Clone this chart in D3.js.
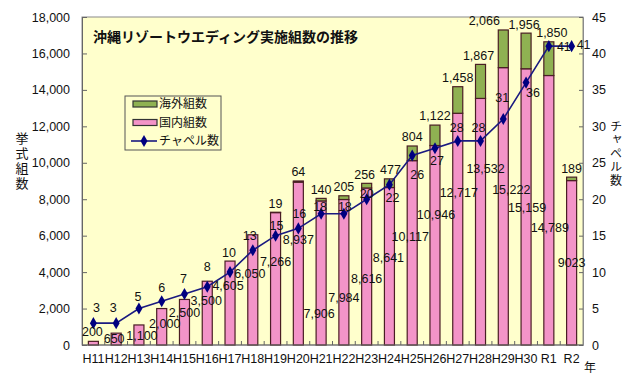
<!DOCTYPE html>
<html><head><meta charset="utf-8">
<script src="https://cdn.jsdelivr.net/npm/d3@7"></script>
<style>
html,body{margin:0;padding:0;background:#fff;}
svg{display:block;}
text{font-family:"Liberation Sans",Arial,sans-serif;fill:#111;}
.jp{font-family:"Noto Sans CJK JP",sans-serif;}
.vt{writing-mode:vertical-rl;text-orientation:upright;}
</style></head>
<body>
<script>
// ---- data ----
const years = ["H11","H12","H13","H14","H15","H16","H17","H18","H19","H20","H21","H22","H23","H24","H25","H26","H27","H28","H29","H30","R1","R2"];
const domestic = [200,650,1100,2000,2500,3500,4605,6050,7266,8937,7906,7984,8616,8641,10117,10946,12717,13532,15222,15159,14789,9023];
const overseas = [0,0,0,0,0,0,0,0,19,64,140,205,256,477,804,1122,1458,1867,2066,1956,1850,189];
const chapels = [3,3,5,6,7,8,10,13,15,16,18,18,20,22,26,27,28,28,31,36,41,41];
const domesticLabels = ["200","650","1,100","2,000","2,500","3,500","4,605","6,050","7,266","8,937","7,906","7,984","8,616","8,641","10,117","10,946","12,717","13,532","15,222","15,159","14,789","9023"];
const leftTicks = [0,2000,4000,6000,8000,10000,12000,14000,16000,18000];
const rightTicks = [0,5,10,15,20,25,30,35,40,45];

// ---- label placement (layout, not data) ----
const domLabelAt = [713,329,494,1152,1756,2415,3238,3896,4555,5762,1701,2579,3622,4774,5927,7134,8341,9659,8506,7518,6421,4500];
const domLabelDx = [-1,-2,3,3,0,-1,-2,-3,0,0,-2,0,0,-1,-2,1,1,5,8,1,1,0];
const chapelLabelOff = [[3,-16],[-3,-16],[-1,-12],[0,-14],[-1,-15],[0,-20],[-1,-19],[-3,-15],[1,-10],[1,-15],[-1,-7],[1,-7],[0,-6],[3,13],[5,19],[2,12],[-1,-13],[-2,-13],[-1,-21],[7,10],[15,0],[12,-2]];
const ovLabelDx = [0,0,0,0,0,0,0,0,0,0,0,0,-2,1,0,0,0,-2,-19,-2,3,0];

const W=632,H=382;
const m={l:82,r:49,t:17,b:37};
const pw=W-m.l-m.r, ph=H-m.t-m.b;

const svg=d3.select("body").append("svg").attr("width",W).attr("height",H);
const g=svg.append("g").attr("transform",`translate(${m.l},${m.t})`);

const x=d3.scaleBand().domain(years).range([0,pw]).paddingInner(0.56).paddingOuter(0.28);
const xc=d3.scaleBand().domain(years).range([0,pw]);
const yL=d3.scaleLinear().domain([0,18000]).range([ph,0]);
const yR=d3.scaleLinear().domain([0,45]).range([ph,0]);

g.append("rect").attr("width",pw).attr("height",ph).attr("fill","#ffffcc").attr("stroke","#8a8a8a").attr("stroke-width",1);

// bars
const bw=x.bandwidth();
const barX=d=>xc(d)+xc.bandwidth()/2-bw/2;
g.selectAll(".dom").data(years).join("rect")
  .attr("x",d=>barX(d)).attr("width",bw)
  .attr("y",(d,i)=>yL(domestic[i])).attr("height",(d,i)=>yL(0)-yL(domestic[i]))
  .attr("fill","#f394c8").attr("stroke","#4a1e24").attr("stroke-width",1.2);
g.selectAll(".ov").data(years).join("rect")
  .attr("x",d=>barX(d)).attr("width",bw)
  .attr("y",(d,i)=>yL(domestic[i]+overseas[i])).attr("height",(d,i)=>yL(domestic[i])-yL(domestic[i]+overseas[i]))
  .attr("fill","#8fb152").attr("stroke","#4a1e24").attr("stroke-width",(d,i)=>overseas[i]>0?1.2:0);

// axes
const axL=d3.axisLeft(yL).tickValues(leftTicks).tickSize(-5).tickPadding(12).tickFormat(d3.format(","));
const gL=g.append("g").call(axL);
gL.select(".domain").attr("stroke","#666");
gL.selectAll(".tick line").attr("stroke","#666");
gL.selectAll("text").style("font-size","12.5px").attr("fill","#111");

const axR=d3.axisRight(yR).tickValues(rightTicks).tickSize(-4).tickPadding(9);
const gR=g.append("g").attr("transform",`translate(${pw},0)`).call(axR);
gR.select(".domain").attr("stroke","#8a8a8a");
gR.selectAll(".tick line").attr("stroke","#666");
gR.selectAll("text").style("font-size","12.5px").attr("fill","#111");

const gB=g.append("g").attr("transform",`translate(0,${ph})`);
gB.append("line").attr("x1",0).attr("x2",pw).attr("stroke","#666");
gB.selectAll(".bt").data(years.slice(1)).join("line")
  .attr("x1",d=>xc(d)).attr("x2",d=>xc(d)).attr("y1",0).attr("y2",-4).attr("stroke","#666");
gB.selectAll(".bl").data(years).join("text")
  .attr("x",d=>xc(d)+xc.bandwidth()/2).attr("y",18).attr("text-anchor","middle")
  .style("font-size","12.5px").text(d=>d);

// chapel line
const cx=(i)=>xc(years[i])+xc.bandwidth()/2;
const line=d3.line().x((d,i)=>cx(i)).y(d=>yR(d));
g.append("path").datum(chapels).attr("d",line).attr("fill","none").attr("stroke","#1a1a80").attr("stroke-width",1.6);
const diamond=d3.symbol().type(d3.symbolDiamond).size(42);
g.selectAll(".pt").data(chapels).join("path")
  .attr("d",diamond).attr("transform",(d,i)=>`translate(${cx(i)},${yR(d)})`).attr("fill","#000080");

// labels
g.selectAll(".dl").data(domesticLabels).join("text")
  .attr("x",(d,i)=>cx(i)+domLabelDx[i]).attr("y",(d,i)=>yL(domLabelAt[i])).attr("dy","0.35em")
  .attr("text-anchor","middle").style("font-size","12.5px").text(d=>d);
const ovIdx=overseas.map((v,i)=>i).filter(i=>overseas[i]>0);
g.selectAll(".ol").data(ovIdx).join("text")
  .attr("x",i=>cx(i)+ovLabelDx[i])
  .attr("y",i=>yL(domestic[i]+overseas[i])-9).attr("dy","0.35em")
  .attr("text-anchor","middle").style("font-size","12.5px").text(i=>d3.format(",")(overseas[i]));
g.selectAll(".cl").data(chapels).join("text")
  .attr("x",(d,i)=>cx(i)+chapelLabelOff[i][0]).attr("y",(d,i)=>yR(d)+chapelLabelOff[i][1]).attr("dy","0.35em")
  .attr("text-anchor","middle").style("font-size","12.5px").text(d=>d);

// title
svg.append("text").attr("class","jp").attr("x",93).attr("y",42).style("font-size","14px").style("font-weight","bold").text("沖縄リゾートウエディング実施組数の推移");

// axis titles (vertical)
svg.append("text").attr("class","jp vt").attr("x",22).attr("y",132)
  .style("font-size","13px").style("letter-spacing","2px").text("挙式組数");
svg.append("text").attr("class","jp vt").attr("x",616).attr("y",120)
  .style("font-size","12px").style("letter-spacing","1.5px").text("チャペル数");
svg.append("text").attr("class","jp").attr("x",590).attr("y",368).attr("dy","0.35em").attr("text-anchor","middle").style("font-size","12px").text("年");

// legend
const lg=svg.append("g");
lg.append("rect").attr("x",125).attr("y",96).attr("width",96).attr("height",54).attr("fill","#ffffcc").attr("stroke","#555");
const items=[{t:"海外組数",c:"#8fb152",k:"bar"},{t:"国内組数",c:"#f394c8",k:"bar"},{t:"チャペル数",c:"#000080",k:"line"}];
items.forEach((it,i)=>{
  const yy=104+i*18.5;
  if(it.k==="bar"){
    lg.append("rect").attr("x",133).attr("y",yy-3).attr("width",24).attr("height",6).attr("fill",it.c).attr("stroke","#333").attr("stroke-width",1.2);
  } else {
    lg.append("line").attr("x1",131).attr("x2",157).attr("y1",yy).attr("y2",yy).attr("stroke","#1a1a80").attr("stroke-width",1.6);
    lg.append("path").attr("d",diamond).attr("transform",`translate(144,${yy})`).attr("fill","#000080");
  }
  lg.append("text").attr("class","jp").attr("x",159).attr("y",yy).attr("dy","0.35em").style("font-size","12px").attr("fill","#222").text(it.t);
});
</script>
</body></html>
